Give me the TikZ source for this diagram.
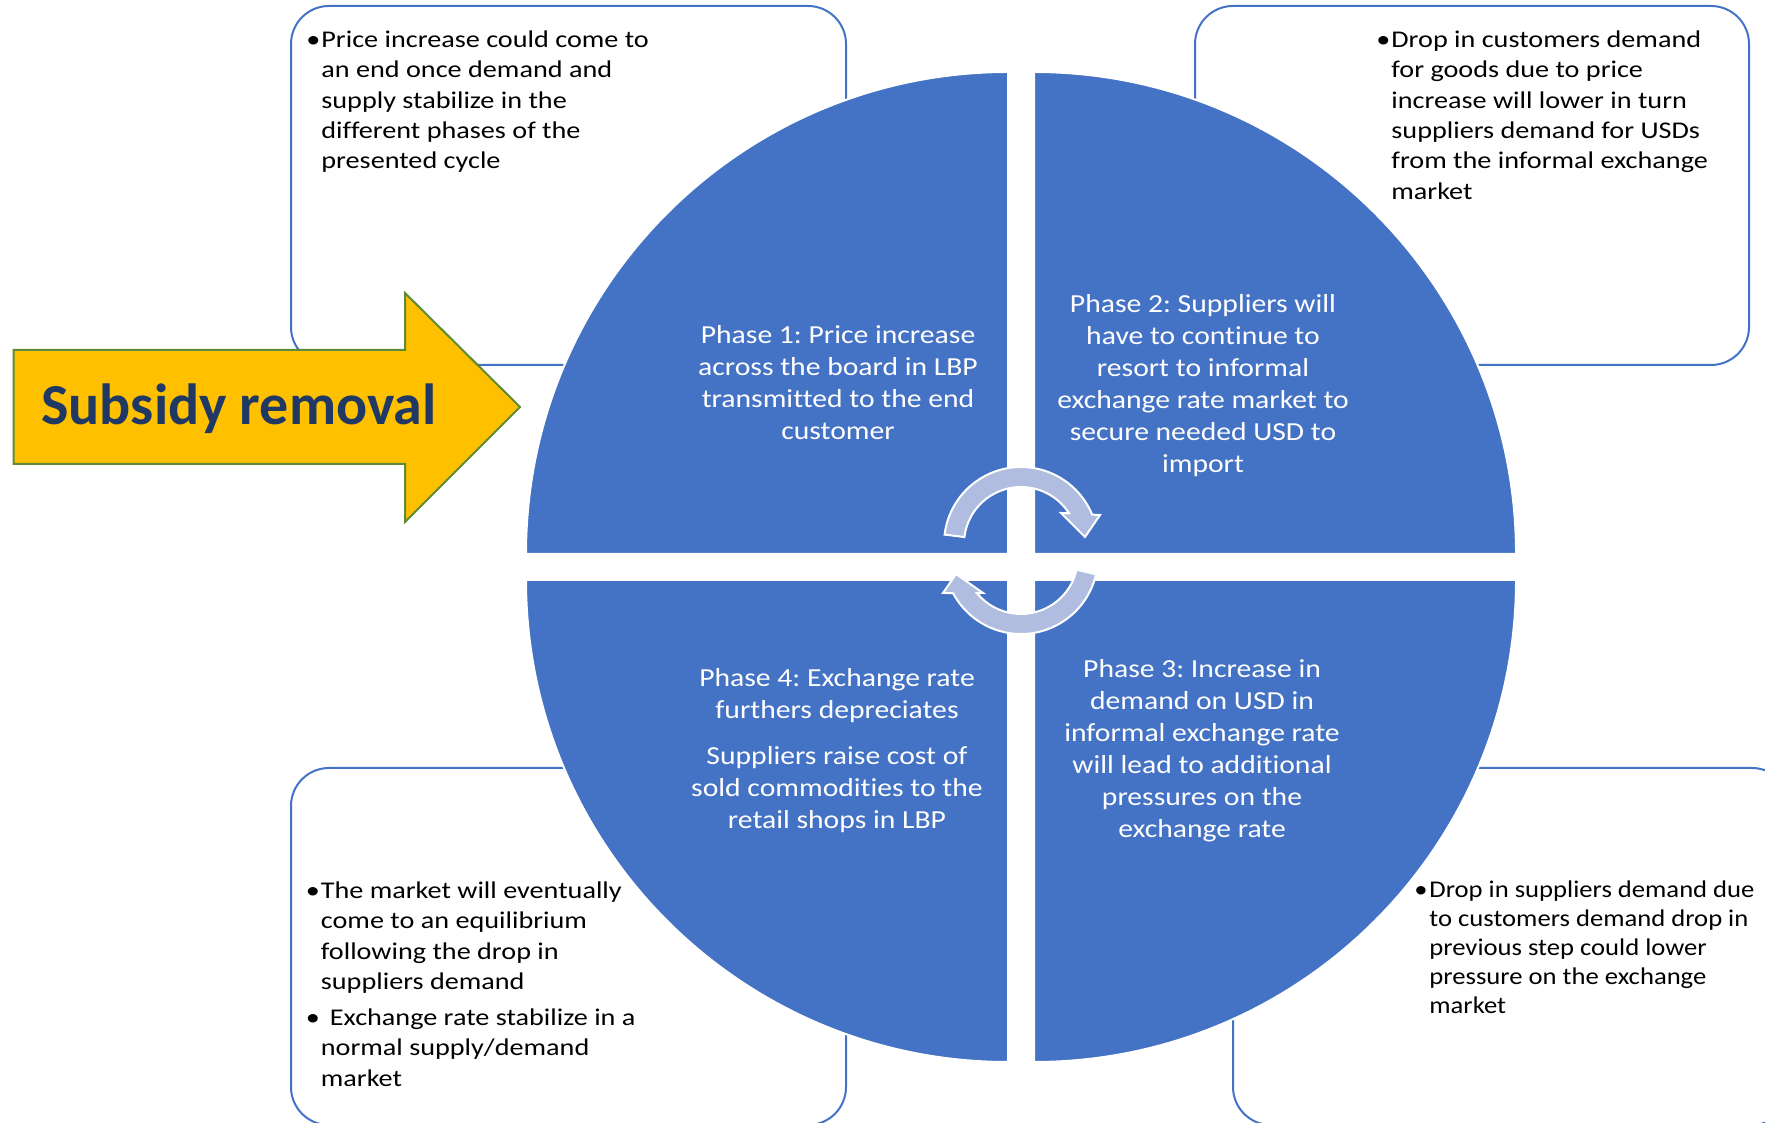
\documentclass[tikz,border=0pt]{standalone}
\usepackage{fontspec}
\setmainfont{Carlito}[Ligatures=NoCommon]
\newfontfamily\notefont{Carlito}[FakeStretch=1.175,Ligatures=NoCommon]
\newfontfamily\notefontb{Carlito}[FakeStretch=1.11,Ligatures=NoCommon]
\newfontfamily\phasefont{Carlito}[FakeStretch=1.14,Ligatures=NoCommon]
\usepackage{xcolor}
\usepackage{tikz}

\definecolor{quadblue}{HTML}{4472C4}
\definecolor{arrowyellow}{HTML}{FFC000}
\definecolor{arrowgreen}{HTML}{5E8B35}
\definecolor{titlenavy}{HTML}{1F3864}
\definecolor{cyclegrey}{HTML}{B0BDE0}

\newcommand{\bul}{\makebox[7.5pt][l]{•}}
\newcommand{\ind}{\hspace*{7.5pt}}
\frenchspacing

\begin{document}
\begin{tikzpicture}[x=0.5pt,y=0.5pt,
	notebox/.style={draw=quadblue,line width=1pt,fill=white,rounded corners=19pt},
	quad/.style={fill=quadblue,draw=white,line width=1pt},
	cyc/.style={fill=cyclegrey,draw=white,line width=1pt},
	notetext/.style={anchor=north west,inner sep=0pt,font=\notefont\fontsize{12}{15.2}\selectfont},
	phasetext/.style={anchor=north,inner sep=0pt,text=white,font=\phasefont\fontsize{13}{16}\selectfont}]
	\useasboundingbox (0,0) rectangle (1765,1123);
	\clip (0,0) rectangle (1765,1123);

	% note boxes behind the circle
	\draw[notebox] (291,758) rectangle (846,1117);
	\draw[notebox] (1195,758) rectangle (1749,1117);
	\draw[notebox] (291,-2) rectangle (846,355);
	\draw[notebox] (1233,-2) rectangle (1790,355);

	% big arrow
	\draw[fill=arrowyellow,draw=arrowgreen,line width=1pt] (13.6,659) -- (405,659) -- (405,601) -- (520,716) -- (405,830) -- (405,773) -- (13.6,773) -- cycle;
	\node[anchor=base west,inner sep=0pt,text=titlenavy,font=\fontsize{29}{35}\selectfont\bfseries] (title) at (41,698) {Subsidy removal};

	% the four quarters
	\filldraw[quad] (1008,569) -- (526,569) arc[start angle=180,end angle=90,radius=482] -- cycle;
	\filldraw[quad] (1034,569) -- (1034,1051) arc[start angle=90,end angle=0,radius=482] -- cycle;
	\filldraw[quad] (1008,543) -- (526,543) arc[start angle=180,end angle=270,radius=482] -- cycle;
	\filldraw[quad] (1034,543) -- (1516,543) arc[start angle=0,end angle=-90,radius=482] -- cycle;

	% cycle arrows
	\begin{scope}[shift={(1021,579)}]
		\filldraw[cyc] (173:77) arc[start angle=173,end angle=22.4,radius=77] -- (79,29) -- (64,7) -- (40,31) -- (32.5:57) arc[start angle=32.5,end angle=173,radius=57] -- cycle;
	\end{scope}
	\begin{scope}[shift={(1021,566)}]
		\filldraw[cyc] (347:77) arc[start angle=347,end angle=207.9,radius=77] -- (-78,-36) -- (-65,-17) -- (-38,-36) -- (219.2:57) arc[start angle=219.2,end angle=347,radius=57] -- cycle;
	\end{scope}

	% phase texts
	\node[phasetext] (phaseone) at (838,802.4) {\begin{tabular}{@{}c@{}}Phase 1: Price increase\\across the board in LBP\\transmitted to the end\\customer\end{tabular}};
	\node[phasetext] (phasetwo) at (1203,833.4) {\begin{tabular}{@{}c@{}}Phase 2: Suppliers will\\have to continue to\\resort to informal\\exchange rate market to\\secure needed USD to\\import\end{tabular}};
	\node[phasetext] (phasethree) at (1202,468.4) {\begin{tabular}{@{}c@{}}Phase 3: Increase in\\demand on USD in\\informal exchange rate\\will lead to additional\\pressures on the\\exchange rate\end{tabular}};
	\node[phasetext] (phasefour) at (837,459.4) {\begin{tabular}{@{}c@{}}Phase 4: Exchange rate\\furthers depreciates\\[7pt]Suppliers raise cost of\\sold commodities to the\\retail shops in LBP\end{tabular}};

	% note texts
	\node[notetext] (notetl) at (306,1097.3) {\begin{tabular}{@{}l@{}}\bul Price increase could come to\\\ind an end once demand and\\\ind supply stabilize in the\\\ind different phases of the\\\ind presented cycle\end{tabular}};
	\node[notetext] (notetr) at (1376,1097.3) {\begin{tabular}{@{}l@{}}\bul Drop in customers demand\\\ind for goods due to price\\\ind increase will lower in turn\\\ind suppliers demand for USDs\\\ind from the informal exchange\\\ind market\end{tabular}};
	\node[notetext] (notebl) at (305.5,246.3) {\begin{tabular}{@{}l@{}}\bul The market will eventually\\\ind come to an equilibrium\\\ind following the drop in\\\ind suppliers demand\\[2.75pt]\bul\hspace{4.5pt}Exchange rate stabilize in a\\\ind normal supply/demand\\\ind market\end{tabular}};
	\node[notetext,font=\notefontb\fontsize{12}{14.5}\selectfont] (notebr) at (1414,246.3) {\begin{tabular}{@{}l@{}}\bul Drop in suppliers demand due\\\ind to customers demand drop in\\\ind previous step could lower\\\ind pressure on the exchange\\\ind market\end{tabular}};
\end{tikzpicture}
\end{document}
